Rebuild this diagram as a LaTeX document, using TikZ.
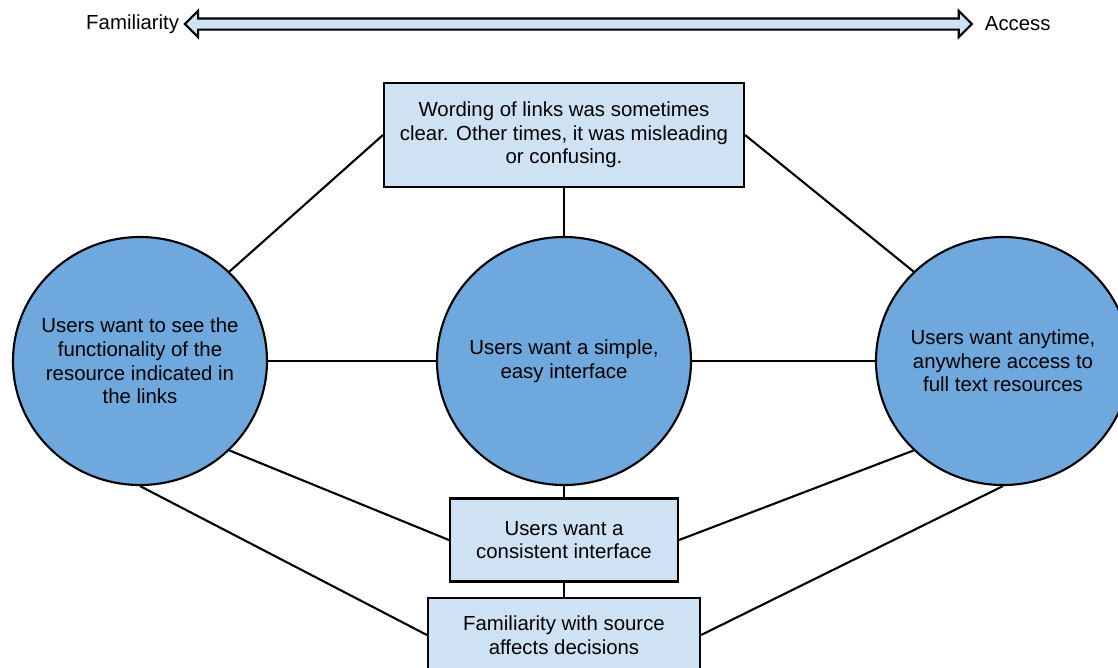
\documentclass[tikz,border=0pt]{standalone}
\usepackage{fontspec}
\setmainfont{Liberation Sans}
\usepackage{xcolor}
\usetikzlibrary{positioning, shapes.geometric, shapes.arrows}

\definecolor{boxblue}{HTML}{CFE2F3}
\definecolor{ballblue}{HTML}{6FA8DC}

\begin{document}
\begin{tikzpicture}[
    lbl/.style={font=\fontsize{14.5pt}{16.8pt}\selectfont, align=center},
    note/.style={lbl, draw, line width=1.5pt, fill=boxblue, inner sep=0pt},
    idea/.style={ellipse, draw, line width=1.5pt, fill=ballblue, inner sep=0pt,
                 minimum width=6.35cm, minimum height=6.2cm},
    link/.style={line width=1.5pt}
  ]

  \useasboundingbox (0,0) rectangle (27.95,-16.675);
  \clip (0,0) rectangle (27.95,-16.675);

  % ══ TOP: familiarity / access axis ═══════════════════════════════════════
  \node[double arrow, draw, line width=1.5pt, fill=boxblue, inner sep=0.1125cm,
        double arrow head extend=0.19cm, minimum height=19.675cm]
    (axis) at (14.46,-0.6) {};
  \node[lbl, inner sep=0pt, left=0.1cm of axis] (fam) {Familiarity};
  \node[lbl, inner sep=0pt, right=0.28cm of axis] (acc) {Access};

  % ══ THEMES ═══════════════════════════════════════════════════════════════
  \node[note, minimum width=9cm, minimum height=2.6cm] (wording) at (14.1,-3.375)
    {Wording of links was sometimes\\clear. Other times, it was misleading\\or confusing.};

  % three circles in one row
  \node[idea, label={[lbl]center:{Users want to see the\\functionality of the\\resource indicated in\\the links}}]
    (seefn) at (3.5,-9.025) {};
  \node[idea, label={[lbl]center:{Users want a simple,\\easy interface}}]
    (simple) at (14.1,-9.025) {};
  \node[idea, label={[lbl]center:{Users want anytime,\\anywhere access to\\full text resources}}]
    (anytime) at (25.075,-9.025) {};

  % boxes below the middle circle
  \node[note, minimum width=5.7cm, minimum height=2.075cm] (consistent) at (14.1,-13.5)
    {Users want a\\consistent interface};
  \node[note, minimum width=6.8cm, minimum height=1.85cm] (familiar) at (14.1,-15.875)
    {Familiarity with source\\affects decisions};

  % ══ LINKS ════════════════════════════════════════════════════════════════
  \draw[link] (wording.west) -- (seefn.45);
  \draw[link] (wording.east) -- (anytime.135);
  \draw[link] (wording.south) -- (simple.north);

  \draw[link] (seefn.east) -- (simple.west);
  \draw[link] (simple.east) -- (anytime.west);

  \draw[link] (simple.south) -- (consistent.north);
  \draw[link] (consistent.south) -- (familiar.north);

  \draw[link] (seefn.-45) -- (consistent.west);
  \draw[link] (anytime.-135) -- (consistent.east);
  \draw[link] (seefn.south) -- (familiar.west);
  \draw[link] (anytime.south) -- (familiar.east);

\end{tikzpicture}
\end{document}
